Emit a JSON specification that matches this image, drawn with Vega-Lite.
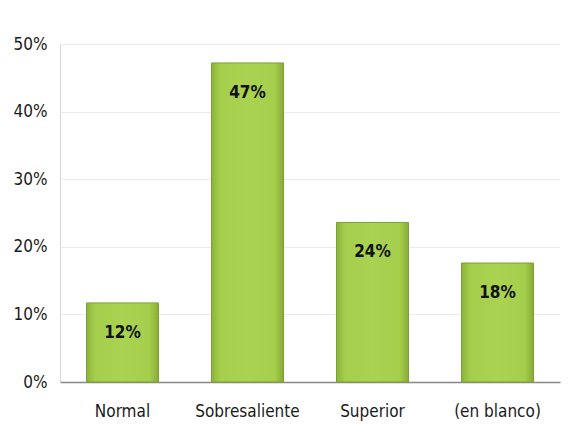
{
  "$schema": "https://vega.github.io/schema/vega-lite/v6.json",
  "width": 500,
  "height": 338,
  "autosize": {"type": "none"},
  "padding": {"left": 60, "top": 44, "right": 13, "bottom": 64},
  "background": "white",
  "config": {
    "view": {"stroke": null},
    "font": "DejaVu Sans Condensed, Roboto, sans-serif",
    "axis": {"labelFont": "DejaVu Sans Condensed, Roboto, sans-serif", "labelFontSize": 17, "labelColor": "#1a1a1a", "ticks": false}
  },
  "data": {
    "values": [
      {"categoria": "Normal", "porcentaje": 0.117},
      {"categoria": "Sobresaliente", "porcentaje": 0.472},
      {"categoria": "Superior", "porcentaje": 0.236},
      {"categoria": "(en blanco)", "porcentaje": 0.176}
    ]
  },
  "encoding": {
    "x": {
      "field": "categoria", "type": "nominal", "sort": null,
      "scale": {"paddingInner": 0.424, "paddingOuter": 0.212},
      "axis": {"title": null, "labelAngle": 0, "labelPadding": 21, "domainColor": "#888888", "domainWidth": 1.5}
    },
    "y": {
      "field": "porcentaje", "type": "quantitative",
      "scale": {"domain": [0, 0.5], "nice": false},
      "axis": {"title": null, "format": ".0%", "values": [0, 0.1, 0.2, 0.3, 0.4, 0.5], "labelPadding": 13, "domainColor": "#d9d9d9", "gridColor": "#ececec", "labelBaseline": "middle"}
    }
  },
  "layer": [
    {
      "mark": {
        "type": "bar",
        "stroke": "#7f9f34",
        "strokeWidth": 1,
        "color": {
          "gradient": "linear",
          "x1": 0, "y1": 0, "x2": 1, "y2": 0,
          "stops": [
            {"offset": 0, "color": "#8cb33a"},
            {"offset": 0.12, "color": "#a5ce4c"},
            {"offset": 0.5, "color": "#abd352"},
            {"offset": 0.88, "color": "#a5ce4c"},
            {"offset": 1, "color": "#86ab36"}
          ]
        }
      }
    },
    {
      "mark": {"type": "text", "baseline": "middle", "dy": 30, "fontSize": 17, "fontWeight": "bold", "color": "#111111", "font": "DejaVu Sans Condensed, Roboto, sans-serif"},
      "encoding": {
        "text": {"field": "porcentaje", "type": "quantitative", "format": ".0%"}
      }
    }
  ]
}
